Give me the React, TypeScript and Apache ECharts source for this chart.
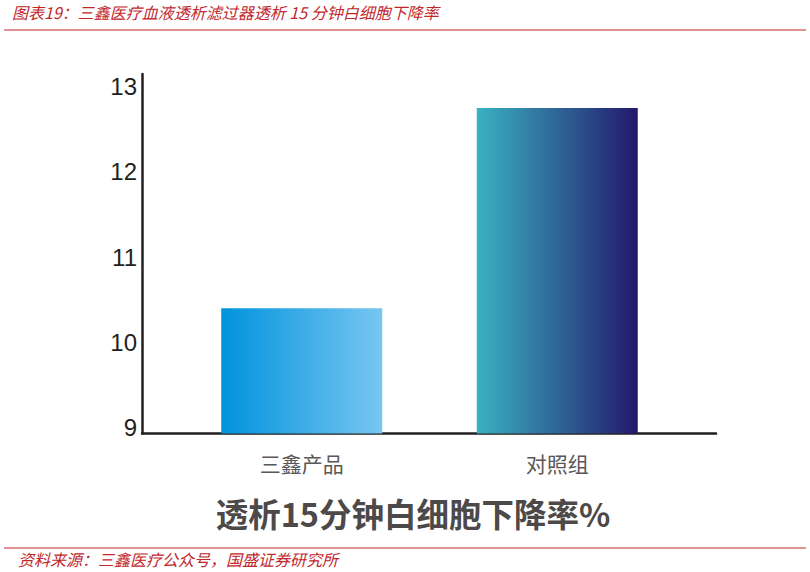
import React, { useEffect, useRef } from "react";
import * as echarts from "echarts";

const categories = ["三鑫产品", "对照组"];
const values = [10.47, 12.82];
const yTicks = [9, 10, 11, 12, 13];
const titleText = "图表19：三鑫医疗血液透析滤过器透析 15 分钟白细胞下降率";
const sourceText = "资料来源：三鑫医疗公众号，国盛证券研究所";
const axisTitle = "透析15分钟白细胞下降率%";
const barGradients = [
  ["#0093DD", "#78C6F1"],
  ["#3AB2C2", "#23186C"],
];

export default function App() {
  const ref = useRef<HTMLDivElement>(null);
  useEffect(() => {
    if (!ref.current) return;
    const chart = echarts.init(ref.current, null, { renderer: "svg" });
    const red = "#c1272d";
    const axisColor = "#231f20";
    const cjk = "'Noto Sans CJK SC', 'Noto Sans', sans-serif";
    chart.setOption({
      animation: false,
      backgroundColor: "#ffffff",
      grid: [
        { left: 142, right: 94, top: 74, bottom: 138.5 },
        { left: 174, right: 125, top: 74, bottom: 138.5 },
      ],
      xAxis: [
        {
          gridIndex: 0,
          type: "category",
          data: [""],
          axisLine: { show: true, lineStyle: { color: axisColor, width: 2.5 } },
          axisTick: { show: false },
          axisLabel: { show: false },
        },
        {
          gridIndex: 1,
          type: "category",
          data: categories,
          axisLine: { show: false },
          axisTick: { show: false },
          axisLabel: {
            fontSize: 21,
            color: "#595757",
            fontFamily: cjk,
            margin: 19,
          },
        },
      ],
      yAxis: [
        {
          gridIndex: 0,
          type: "value",
          min: yTicks[0],
          max: 13.22,
          interval: 1,
          axisLine: { show: true, lineStyle: { color: axisColor, width: 2.5 } },
          axisTick: { show: false },
          splitLine: { show: false },
          axisLabel: {
            fontSize: 24,
            color: axisColor,
            fontFamily: "'Liberation Sans', Arial, sans-serif",
            margin: 5,
            verticalAlign: "bottom",
            lineHeight: 12,
            formatter: (v: number) => (yTicks.includes(v) ? String(v) : ""),
          },
        },
        {
          gridIndex: 1,
          type: "value",
          min: yTicks[0],
          max: 13.22,
          show: false,
          splitLine: { show: false },
        },
      ],
      series: [
        {
          type: "bar",
          xAxisIndex: 1,
          yAxisIndex: 1,
          barWidth: 161,
          data: values.map((v, i) => ({
            value: v,
            itemStyle: {
              color: new echarts.graphic.LinearGradient(0, 0, 1, 0, [
                { offset: 0, color: barGradients[i][0] },
                { offset: 1, color: barGradients[i][1] },
              ]),
            },
          })),
        },
      ],
      graphic: [
        {
          type: "text",
          left: 12,
          top: 4,
          style: {
            text: titleText,
            fill: red,
            fontSize: 16,
            fontStyle: "italic",
            fontFamily: cjk,
          },
        },
        {
          type: "line",
          shape: { x1: 4, y1: 30, x2: 806, y2: 30 },
          style: { stroke: red, lineWidth: 1.2 },
        },
        {
          type: "text",
          x: 413,
          y: 512,
          style: {
            text: axisTitle,
            fill: "#4d4949",
            fontSize: 32.5,
            fontWeight: "bold",
            fontFamily: cjk,
            align: "center",
            verticalAlign: "middle",
          },
        },
        {
          type: "line",
          shape: { x1: 4, y1: 548, x2: 806, y2: 548 },
          style: { stroke: red, lineWidth: 1.2 },
        },
        {
          type: "text",
          left: 18,
          top: 551,
          style: {
            text: sourceText,
            fill: red,
            fontSize: 16,
            fontStyle: "italic",
            fontFamily: cjk,
          },
        },
      ],
    });
    return () => chart.dispose();
  }, []);
  return (
    <div
      ref={ref}
      style={{ position: "fixed", left: 0, top: 0, width: 810, height: 572 }}
    />
  );
}
